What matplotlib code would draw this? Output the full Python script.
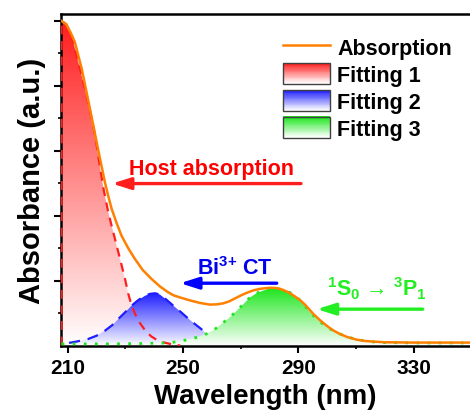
import numpy as np
import matplotlib
matplotlib.use("Agg")
import matplotlib.pyplot as plt
from matplotlib.colors import LinearSegmentedColormap, to_rgb
from matplotlib.patches import Rectangle, PathPatch, Patch
from matplotlib.lines import Line2D
from matplotlib.legend_handler import HandlerBase
from matplotlib.ticker import FixedLocator

plt.rcParams['font.family'] = ['Liberation Sans', 'DejaVu Sans']
plt.rcParams['font.weight'] = 'bold'
plt.rcParams['mathtext.fontset'] = 'custom'
plt.rcParams['mathtext.rm'] = 'Liberation Sans:bold'
plt.rcParams['mathtext.bf'] = 'Liberation Sans:bold'

# measured absorption spectrum
abs_nm = [207.9, 209.5, 211, 212.5, 214.9, 217.1, 219.2, 221, 222.9, 224.1, 225.3, 227, 228.7,
          231, 233.3, 236, 239.1, 242, 244.5, 246.6, 249, 252, 255.9, 259.4, 262, 264, 266,
          268, 270, 272, 274.4, 277, 280.2, 282.5, 284.5, 286.5, 288.5, 290.6, 292.5, 295.2,
          297.5, 299.8, 302, 304.5, 307, 310.2, 313, 316, 320, 330, 340, 349.5]
abs_val = [1.0, 0.99, 0.965, 0.935, 0.852, 0.757, 0.665, 0.585, 0.504, 0.46, 0.42, 0.377, 0.338,
           0.30, 0.267, 0.233, 0.205, 0.182, 0.166, 0.155, 0.148, 0.14, 0.131, 0.126, 0.127, 0.13,
           0.136, 0.145, 0.154, 0.162, 0.17, 0.175, 0.178, 0.177, 0.172, 0.164, 0.153, 0.14, 0.124,
           0.097, 0.078, 0.061, 0.047, 0.035, 0.026, 0.018, 0.014, 0.012, 0.01, 0.009, 0.009, 0.009]

# fitting 1 - host absorption
fit1_nm = [207.9, 207.9, 209.5, 211, 212, 214.3, 216.6, 218.9, 220, 221.2, 222.5, 224.1, 225.5, 227,
           228.5, 229.9, 231, 232.2, 233.5, 235, 237, 239, 241, 243, 246, 249]
fit1_val = [0.0, 1.0, 0.99, 0.962, 0.934, 0.852, 0.77, 0.677, 0.62, 0.55, 0.48, 0.41, 0.36, 0.308,
            0.255, 0.205, 0.16, 0.123, 0.095, 0.07, 0.045, 0.028, 0.017, 0.01, 0.004, 0.0]

# fitting 2 - Bi3+ CT
fit2_nm = [210.5, 213, 217.1, 220, 223, 225.5, 227.6, 230, 232.2, 234.5, 236.8, 238.5, 240.3, 242,
           244, 246.6, 249, 251.3, 254, 257, 258.2]
fit2_val = [0.008, 0.012, 0.02, 0.03, 0.046, 0.063, 0.082, 0.103, 0.123, 0.14, 0.153, 0.159, 0.161,
            0.157, 0.143, 0.123, 0.105, 0.087, 0.067, 0.046, 0.036]

# fitting 3 - 1S0 -> 3P1
fit3_nm = [207.9, 215, 225, 235, 245, 249, 252, 254.7, 258.2, 261, 264, 266.5, 268.6, 271, 273.2,
           275.5, 277.8, 279.5, 281.3, 283, 285, 287.1, 289, 290.5, 292.9, 295.2, 298, 301, 304,
           306.8, 309.5, 312.5, 316, 320, 330, 340, 349.5]
fit3_val = [0.005, 0.005, 0.005, 0.006, 0.008, 0.013, 0.019, 0.025, 0.036, 0.05, 0.071, 0.089, 0.107,
            0.128, 0.148, 0.161, 0.169, 0.174, 0.176, 0.175, 0.171, 0.163, 0.152, 0.14, 0.115, 0.092,
            0.07, 0.051, 0.037, 0.028, 0.02, 0.015, 0.011, 0.009, 0.008, 0.008, 0.008]

xticks_major = [210, 250, 290, 330]
xticks_minor = [230, 270, 310]
yticks_major = [0.2, 0.4, 0.6, 0.8, 1.0]
yticks_minor = [0.1, 0.3, 0.5, 0.7, 0.9]

RED, BLUE, GREEN, ORANGE = '#FF1E1E', '#1E1EFF', '#1EE61E', '#FF8000'


def grad_fill(ax, x, y, color, z):
    poly = ax.fill_between(x, y, 0, color='none', lw=0)
    clip = PathPatch(poly.get_paths()[0], transform=ax.transData, fc='none', ec='none')
    ax.add_patch(clip)
    cmap = LinearSegmentedColormap.from_list('g', ['white', color])
    grad = np.linspace(0, 1, 256).reshape(-1, 1)
    im = ax.imshow(grad, cmap=cmap, aspect='auto', origin='lower',
                   extent=[min(x), max(x), 0, max(y)], zorder=z)
    im.set_clip_path(clip)


class GradHandler(HandlerBase):
    def create_artists(self, legend, orig_handle, xd, yd, w, h, fs, trans):
        col = np.array(to_rgb(orig_handle.get_facecolor()))
        arts = []
        n = 24
        for i in range(n):
            f = i / (n - 1)
            c = np.ones(3) * (1 - f) + col * f
            arts.append(Rectangle((-xd, -yd + h * i / n), w, h / n + 0.3, fc=c, ec='none', transform=trans))
        arts.append(Rectangle((-xd, -yd), w, h, fc='none', ec='#404040', lw=1, transform=trans))
        return arts


fig = plt.figure(figsize=(4.70, 4.14), dpi=100)
ax = fig.add_axes([61 / 470, 1 - 346.5 / 414, 1 - 61 / 470, (346.5 - 15) / 414])

grad_fill(ax, fit1_nm, fit1_val, RED, 1)
grad_fill(ax, fit2_nm, fit2_val, BLUE, 1)
grad_fill(ax, fit3_nm, fit3_val, GREEN, 1)

ax.plot(fit1_nm, fit1_val, color=RED, lw=1.6, ls=(0, (4, 3)), zorder=3)
ax.plot(fit2_nm, fit2_val, color=BLUE, lw=1.6, ls=(0, (5, 3.5)), zorder=3)
ax.plot(fit3_nm, fit3_val, color=GREEN, lw=2.0, ls=(0, (1, 3)), zorder=3)
ax.plot(abs_nm, abs_val, color=ORANGE, lw=1.8, zorder=4)

ax.set_xlim(207.7, 349.5)
ax.set_ylim(0, (346.5 - 15) / 324.5)

ax.xaxis.set_major_locator(FixedLocator(xticks_major))
ax.xaxis.set_minor_locator(FixedLocator(xticks_minor))
ax.yaxis.set_major_locator(FixedLocator(yticks_major))
ax.yaxis.set_minor_locator(FixedLocator(yticks_minor))
ax.tick_params(axis='both', which='major', direction='out', length=5, width=1.5, labelsize=15)
ax.tick_params(axis='both', which='minor', direction='out', length=2.5, width=1.2)
ax.tick_params(axis='y', labelleft=False)
ax.tick_params(axis='x', pad=4)
for s in ['left', 'bottom', 'top']:
    ax.spines[s].set_linewidth(1.8)
ax.spines['right'].set_visible(False)

ax.set_xlabel('Wavelength (nm)', fontsize=20, fontweight='bold', labelpad=4)
ax.set_ylabel('Absorbance (a.u.)', fontsize=21, fontweight='bold', labelpad=5)

arrow = dict(arrowstyle='-|>,head_length=1.1,head_width=0.35', lw=2.4, shrinkA=0, shrinkB=0,
             mutation_scale=10)
ax.annotate('', xy=(225.4, 0.499), xytext=(290.9, 0.499), arrowprops=dict(arrow, color=RED), zorder=5)
ax.text(231.3, 0.528, 'Host absorption', color='#FF0000', fontsize=15.5, fontweight='bold', va='baseline')

ax.annotate('', xy=(249, 0.192), xytext=(282.5, 0.192), arrowprops=dict(arrow, color='#0000FF'), zorder=5)
ax.text(254.7, 0.220, r'Bi$^{3{+}}$ CT', color='#0000EE', fontsize=15.5, fontweight='bold', va='baseline')

ax.annotate('', xy=(296.4, 0.112), xytext=(333.1, 0.112), arrowprops=dict(arrow, color='#22EE22'), zorder=5)
ax.text(300.0, 0.153, r'$^{1}$S$_{0}$ → $^{3}$P$_{1}$', color='#22EE22', fontsize=15.5,
        fontweight='bold', va='baseline')

handles = [Line2D([], [], color=ORANGE, lw=1.8),
           Patch(facecolor=RED), Patch(facecolor=BLUE), Patch(facecolor=GREEN)]
labels = ['Absorption', 'Fitting 1', 'Fitting 2', 'Fitting 3']
ax.legend(handles, labels, loc='upper left', bbox_to_anchor=((283 - 61) / 409, (346.5 - 37) / 331.5),
          frameon=False, prop={'size': 15.5, 'weight': 'bold'}, handlelength=2.2, handleheight=1.1,
          handletextpad=0.33, labelspacing=0.2, borderpad=0, borderaxespad=0,
          handler_map={Patch: GradHandler()})

fig.savefig('out.png', dpi=100)
